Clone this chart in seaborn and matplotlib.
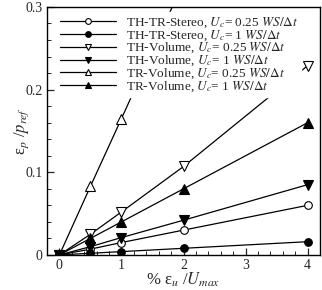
import numpy as np
import pandas as pd
import matplotlib
matplotlib.use("Agg")
import matplotlib.pyplot as plt
import seaborn as sns

# data
err_u = [0, 0.5, 1, 2, 4]
stereo_025 = [0, 0.007, 0.015, 0.030, 0.060]
stereo_1 = [0, 0.002, 0.004, 0.008, 0.016]
thvol_025 = [0, 0.025, 0.052, 0.107, 0.229]
thvol_1 = [0, 0.010, 0.021, 0.042, 0.085]
trvol_x = [0, 0.5, 1, 2]
trvol_025 = [0, 0.083, 0.165, 0.330]
trvol_1 = [0, 0.020, 0.040, 0.080, 0.160]

labels = [
    r"TH-TR-Stereo, $U_c$= 0.25 $WS/\Delta t$",
    r"TH-TR-Stereo, $U_c$= 1 $WS/\Delta t$",
    r"TH-Volume, $U_c$= 0.25 $WS/\Delta t$",
    r"TH-Volume, $U_c$= 1 $WS/\Delta t$",
    r"TR-Volume, $U_c$= 0.25 $WS/\Delta t$",
    r"TR-Volume, $U_c$= 1 $WS/\Delta t$",
]

sns.set_style("ticks")
plt.rcParams['font.family'] = ['Liberation Serif', 'DejaVu Serif']
plt.rcParams['mathtext.fontset'] = 'stix'

fig = plt.figure(figsize=(3.22, 2.90), dpi=100)
ax = fig.add_axes([0.146, 0.121, 0.848, 0.855])

series = [
    (err_u, stereo_025, 'o', 'white', 5.5),
    (err_u, stereo_1, 'o', 'black', 5.5),
    (err_u, thvol_025, 'v', 'white', 6.5),
    (err_u, thvol_1, 'v', 'black', 6.5),
    (trvol_x, trvol_025, '^', 'white', 6.5),
    (err_u, trvol_1, '^', 'black', 6.5),
]

for (xs, ys, mk, fc, ms), lab in zip(series, labels):
    df = pd.DataFrame({'x': xs, 'y': ys})
    sns.lineplot(data=df, x='x', y='y', ax=ax, color='black', lw=0.9,
                 marker=mk, markersize=ms, markerfacecolor=fc,
                 markeredgecolor='black', markeredgewidth=0.8,
                 label=lab, sort=False, estimator=None)

ax.set_xlim(-0.2, 4.2)
ax.set_ylim(0, 0.3)
ax.set_xticks([0, 1, 2, 3, 4])
ax.set_yticks([0, 0.1, 0.2, 0.3])
ax.set_yticklabels(['0', '0.1', '0.2', '0.3'])
ax.set_xticks(np.arange(-0.2, 4.21, 0.2), minor=True)
ax.set_yticks(np.arange(0, 0.301, 0.02), minor=True)
ax.tick_params(which='both', direction='in', top=False, right=False,
               labelsize=10, pad=3)
ax.tick_params(which='major', length=5, width=0.9)
ax.tick_params(which='minor', length=3, width=0.7)
for sp in ax.spines.values():
    sp.set_linewidth(1.0)
    sp.set_color('black')

ax.set_xlabel(r"% ε$_u$ /$U_{max}$", fontsize=12, labelpad=-1)
ax.set_ylabel(r"ε$_p$ /$p_{ref}$", fontsize=12, labelpad=-4)

leg = ax.legend(loc='upper left', bbox_to_anchor=(0.038, 0.978), fontsize=9.5,
                frameon=True, fancybox=False, framealpha=1, markerscale=0.75,
                handlelength=4.25, handletextpad=0.75, labelspacing=-0.12,
                borderpad=0.2, borderaxespad=0)
leg.get_frame().set_edgecolor('white')
leg.get_frame().set_facecolor('white')

fig.savefig("out.png", dpi=100)
